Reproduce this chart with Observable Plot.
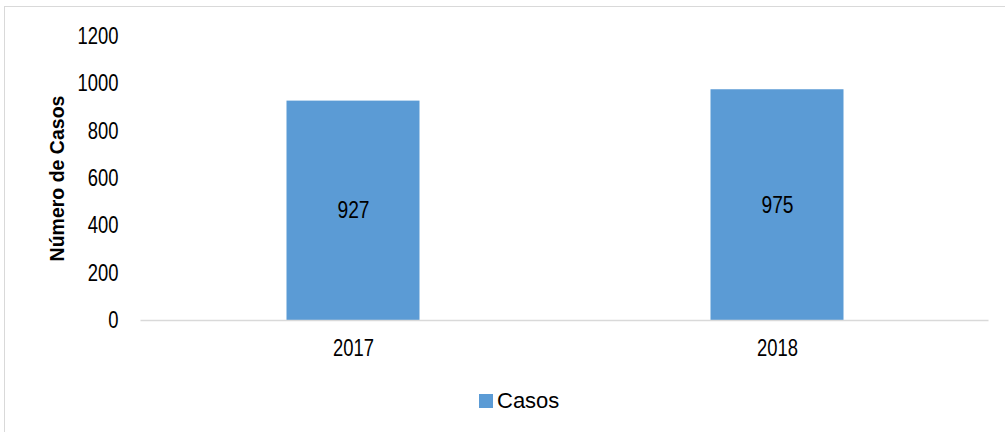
<!DOCTYPE html>
<html>
<head>
<meta charset="utf-8">
<script src="https://cdn.jsdelivr.net/npm/d3@7"></script>
<script src="https://cdn.jsdelivr.net/npm/@observablehq/plot@0.6"></script>
<style>
  html, body { margin: 0; padding: 0; background: #fff; }
  #wrap { position: relative; width: 1005px; height: 432px; overflow: hidden; }
  #frame { position: absolute; left: 4px; top: 6px; width: 1100px; height: 500px;
           border-top: 1.5px solid #d9d9d9; border-left: 1.5px solid #d9d9d9; box-sizing: border-box; }
  #chart { position: absolute; left: 0; top: 0; }
  #legend { position: absolute; left: 479px; top: 388px; display: flex; align-items: center;
            font-family: "Liberation Sans", Arial, sans-serif; font-size: 22px; color: #000; }
  #legend .sw { width: 14px; height: 14px; background: #5b9bd5; margin-right: 4px; }
</style>
</head>
<body>
<div id="wrap">
  <div id="frame"></div>
  <div id="chart"></div>
  <div id="legend"><div class="sw"></div><span id="legend-label"></span></div>
</div>
<script>
const years = ["2017", "2018"];
const casos = [927, 975];
const yTicks = [0, 200, 400, 600, 800, 1000, 1200];
const seriesName = "Casos";
const yTitle = "Número de Casos";

const data = years.map((y, i) => ({ year: y, value: casos[i] }));
const font = '"Liberation Sans", Arial, sans-serif';

const chart = Plot.plot({
  width: 1005,
  height: 380,
  marginLeft: 140.5,
  marginRight: 16.5,
  marginTop: 36,
  marginBottom: 60,
  style: { fontFamily: font, fontSize: "23px", color: "#000", background: "transparent" },
  x: { domain: years, padding: 0, label: null },
  y: { domain: [0, 1200], label: null },
  marks: [
    Plot.barY(data, { x: "year", y: "value", fill: "#5b9bd5", insetLeft: 145.5, insetRight: 145.5 }),
    Plot.ruleY([0], { stroke: "#d9d9d9", strokeWidth: 1.5 }),
    Plot.axisX({ tickSize: 0, tickPadding: 19, fontSize: 23, label: null, className: "narrow" }),
    Plot.axisY({ ticks: yTicks, tickFormat: d => String(d), tickSize: 0, tickPadding: 22.5, fontSize: 23, label: null, className: "narrow" }),
    Plot.text(data, { x: "year", y: d => d.value / 2, text: d => String(d.value), fontSize: 24, lineAnchor: "middle", fill: "#000", className: "narrow" }),
    Plot.text([yTitle], { frameAnchor: "left", dx: -83.5, rotate: -90, textAnchor: "middle", fontSize: 19.5, fontWeight: "bold", fill: "#000", lineAnchor: "middle" })
  ]
});
document.getElementById("chart").appendChild(chart);
document.getElementById("legend-label").textContent = seriesName;

// condense the digit labels horizontally (Arial Narrow look)
chart.querySelectorAll("g.narrow text").forEach(t => {
  const len = t.getComputedTextLength();
  if (len > 0) {
    t.setAttribute("textLength", (len * 0.8).toFixed(2));
    t.setAttribute("lengthAdjust", "spacingAndGlyphs");
  }
});
</script>
</body>
</html>
